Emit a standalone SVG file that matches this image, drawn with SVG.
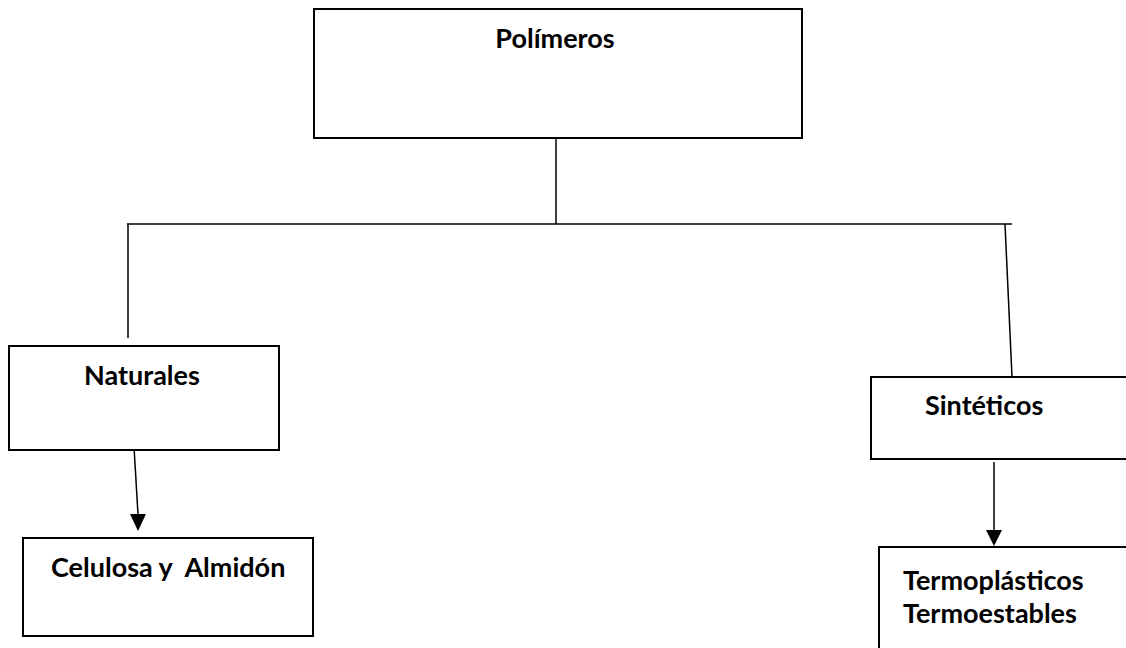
<svg xmlns="http://www.w3.org/2000/svg" width="1126" height="648" viewBox="0 0 1126 648">
<defs>
<style>
.box{fill:#fff;stroke:#000;stroke-width:2}
.ln{fill:none;stroke:#000;stroke-width:1.5}
.t{font-family:Lato,"Open Sans","Liberation Sans",sans-serif;font-weight:bold;font-size:27px;fill:#000}
</style>
</defs>
<rect width="1126" height="648" fill="#fff"/>
<g id="connectors">
<line class="ln" x1="556" y1="138" x2="556" y2="224"/>
<line class="ln" x1="127" y1="224" x2="1012" y2="224"/>
<line class="ln" x1="128" y1="224" x2="128" y2="338"/>
<line class="ln" x1="1005" y1="224" x2="1012" y2="377"/>
<line class="ln" x1="134" y1="447" x2="138" y2="514" stroke-width="2"/>
<polygon points="130,514 146,514 138,531" fill="#000"/>
<line class="ln" x1="994" y1="462" x2="994" y2="530" stroke-width="2"/>
<polygon points="986,530 1002,530 994,546" fill="#000"/>
</g>
<g id="polimeros">
<rect class="box" x="314" y="9" width="488" height="129"/>
<text class="t" x="555" y="48" text-anchor="middle">Polímeros</text>
</g>
<g id="naturales">
<rect class="box" x="9" y="346" width="270" height="104"/>
<text class="t" x="84" y="385">Naturales</text>
</g>
<g id="celulosa">
<rect class="box" x="23" y="538" width="290" height="98"/>
<text class="t" x="51" y="577" xml:space="preserve">Celulosa y  Almidón</text>
</g>
<g id="sinteticos">
<rect class="box" x="871" y="377" width="265" height="82"/>
<text class="t" x="925" y="415">Sintéticos</text>
</g>
<g id="termo">
<rect class="box" x="879" y="547" width="260" height="120"/>
<text class="t" x="903" y="590">Termoplásticos</text>
<text class="t" x="903" y="623">Termoestables</text>
</g>
</svg>
